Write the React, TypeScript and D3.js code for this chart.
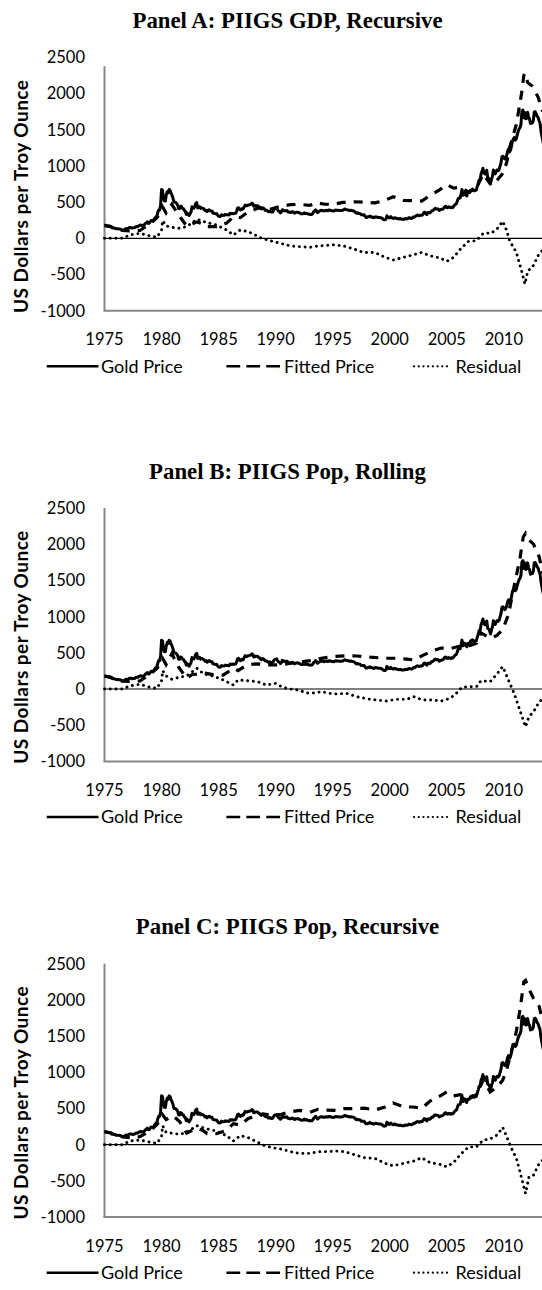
import React, { useEffect, useRef } from 'react'
import * as d3 from 'd3'

// monthly gold price, one row per year starting 1975
const goldStartYear = 1975
const goldPrice = [
  [176, 180, 178, 170, 167, 165, 166, 160, 144, 143, 142, 140],
  [131, 132, 132, 128, 127, 126, 118, 110, 114, 117, 131, 134],
  [132, 136, 148, 149, 147, 141, 144, 145, 149, 159, 162, 161],
  [173, 178, 184, 175, 177, 183, 189, 206, 213, 228, 206, 208],
  [227, 245, 242, 239, 257, 279, 295, 301, 355, 392, 392, 456],
  [675, 665, 555, 517, 514, 600, 644, 627, 674, 661, 623, 595],
  [557, 500, 500, 495, 480, 460, 410, 410, 443, 437, 413, 410],
  [384, 374, 330, 350, 333, 315, 339, 364, 435, 422, 415, 444],
  [481, 492, 420, 432, 438, 413, 422, 416, 412, 394, 382, 388],
  [370, 386, 394, 381, 378, 378, 348, 348, 341, 340, 341, 320],
  [303, 299, 304, 325, 316, 317, 317, 330, 324, 326, 325, 322],
  [345, 339, 346, 340, 342, 343, 348, 376, 418, 423, 398, 391],
  [408, 401, 409, 438, 460, 450, 450, 461, 460, 465, 468, 486],
  [477, 442, 444, 452, 451, 451, 437, 432, 413, 406, 420, 419],
  [404, 388, 390, 384, 371, 367, 375, 365, 362, 367, 394, 409],
  [410, 417, 393, 374, 369, 352, 362, 395, 389, 380, 382, 378],
  [384, 364, 363, 358, 357, 366, 368, 356, 348, 358, 360, 361],
  [354, 354, 344, 338, 337, 341, 353, 340, 345, 344, 335, 334],
  [329, 330, 330, 342, 367, 372, 392, 379, 355, 364, 374, 383],
  [387, 382, 384, 377, 381, 386, 385, 380, 391, 389, 384, 379],
  [379, 376, 382, 391, 385, 387, 386, 383, 383, 383, 386, 387],
  [400, 405, 396, 393, 392, 385, 383, 387, 383, 381, 378, 369],
  [355, 346, 352, 344, 344, 341, 324, 324, 323, 325, 306, 289],
  [289, 297, 296, 308, 299, 292, 293, 284, 289, 296, 294, 291],
  [287, 287, 286, 282, 277, 261, 256, 257, 264, 311, 293, 283],
  [284, 300, 286, 280, 275, 285, 282, 274, 273, 270, 266, 272],
  [265, 262, 263, 261, 272, 270, 268, 273, 283, 283, 276, 275],
  [282, 296, 294, 302, 314, 321, 313, 310, 319, 317, 319, 333],
  [357, 359, 340, 328, 355, 356, 351, 360, 379, 379, 389, 407],
  [414, 405, 406, 404, 384, 392, 398, 400, 405, 420, 439, 442],
  [424, 423, 434, 429, 422, 430, 424, 437, 456, 470, 476, 510],
  [549, 555, 557, 610, 675, 596, 633, 632, 598, 585, 627, 629],
  [631, 664, 655, 679, 667, 655, 665, 665, 712, 754, 806, 803],
  [889, 922, 968, 909, 888, 889, 939, 839, 829, 806, 760, 816],
  [858, 943, 924, 890, 928, 945, 934, 949, 996, 1043, 1127, 1134],
  [1118, 1095, 1113, 1148, 1205, 1232, 1193, 1215, 1271, 1343, 1370, 1391],
  [1356, 1372, 1424, 1473, 1510, 1529, 1572, 1756, 1772, 1666, 1739, 1652],
  [1656, 1742, 1673, 1650, 1585, 1596, 1594, 1626, 1744, 1747, 1721, 1688],
  [1671, 1627, 1593, 1487, 1414, 1343, 1286, 1347, 1349, 1316, 1275, 1225],
]

type Pt = [number, number]

const fittedA: Pt[] = [
  [1975.0, 176], [1975.5, 165], [1976.0, 130], [1976.6, 108], [1977.2, 102], [1978.1, 108],
  [1979.0, 200], [1979.6, 286], [1979.9, 350], [1980.1, 430], [1980.4, 350], [1980.9, 468],
  [1981.5, 322], [1982.2, 170], [1982.7, 200], [1983.1, 227], [1983.6, 200], [1984.0, 160],
  [1984.8, 160], [1985.7, 210], [1986.3, 296], [1986.9, 285], [1987.6, 368], [1988.2, 400],
  [1988.6, 422], [1989.5, 402], [1990.4, 440], [1991.3, 464], [1992.1, 469], [1993.0, 455],
  [1993.6, 490], [1994.3, 470], [1995.0, 470], [1995.9, 495], [1996.9, 505], [1997.7, 500],
  [1998.7, 490], [1999.6, 525], [2000.3, 575], [2001.2, 525], [2002.1, 520], [2002.8, 515],
  [2003.5, 590], [2004.4, 672], [2005.0, 742], [2005.6, 693], [2006.2, 705], [2006.9, 640],
  [2007.6, 697], [2008.2, 890], [2008.9, 730], [2009.4, 800], [2009.9, 895], [2010.25, 1045],
  [2010.5, 1250], [2011.1, 1575], [2011.55, 2000], [2011.75, 2250], [2011.85, 2280],
  [2012.1, 2150], [2012.5, 2100], [2013.0, 1950], [2013.4, 1750],
]

const residualA: Pt[] = [
  [1975.0, 0], [1975.5, 0], [1976.0, 0], [1976.6, 0], [1977.2, 46], [1978.1, 69], [1979.0, 32],
  [1979.6, 14], [1980.0, 115], [1980.1, 244], [1980.4, 170], [1980.9, 152], [1981.5, 138],
  [1982.2, 161], [1983.1, 263], [1984.0, 216], [1984.8, 184], [1985.7, 115], [1986.3, 46],
  [1986.9, 115], [1987.6, 92], [1988.2, 46], [1988.6, 10], [1989.5, -32], [1990.4, -69],
  [1991.3, -106], [1992.1, -115], [1993.0, -125], [1993.5, -110], [1993.9, -104], [1995.05, -90],
  [1995.9, -104], [1996.9, -150], [1997.7, -196], [1998.7, -196], [1999.6, -263], [2000.3, -300],
  [2001.2, -263], [2002.1, -226], [2002.8, -196], [2003.5, -240], [2004.4, -272], [2005.0, -318],
  [2005.6, -263], [2006.2, -148], [2006.9, -42], [2007.6, -32], [2008.2, 69], [2008.9, 69],
  [2009.4, 129], [2009.9, 235], [2010.25, 106], [2010.5, -32], [2011.1, -196], [2011.55, -448],
  [2011.85, -632], [2012.1, -448], [2012.5, -402], [2013.0, -240], [2013.4, -160],
]

const fittedB: Pt[] = [
  [1975.0, 176], [1975.5, 165], [1976.0, 130], [1976.6, 108], [1977.2, 106], [1978.1, 110],
  [1979.0, 207], [1979.6, 286], [1979.9, 350], [1980.1, 421], [1980.4, 337], [1980.9, 486],
  [1981.5, 300], [1982.2, 150], [1982.7, 200], [1983.1, 204], [1983.7, 222], [1984.5, 198],
  [1985.4, 191], [1986.3, 287], [1986.7, 255], [1987.5, 335], [1988.4, 348], [1989.2, 333],
  [1990.0, 332], [1990.6, 337], [1991.3, 358], [1992.1, 372], [1992.7, 385], [1993.5, 400],
  [1994.0, 424], [1995.05, 448], [1996.2, 460], [1997.1, 456], [1998.3, 439], [1999.7, 425],
  [2000.6, 425], [2001.5, 413], [2002.1, 402], [2002.9, 465], [2003.8, 531], [2004.5, 566],
  [2005.3, 558], [2006.0, 586], [2006.3, 590], [2007.0, 600], [2007.6, 633], [2008.0, 774],
  [2008.8, 704], [2009.4, 740], [2009.9, 821], [2010.4, 1025], [2010.9, 1420], [2011.4, 1790],
  [2011.7, 2100], [2011.9, 2150], [2012.2, 2060], [2012.6, 2000], [2013.1, 1825], [2013.4, 1600],
]

const residualB: Pt[] = [
  [1975.0, 0], [1975.5, 0], [1976.0, 0], [1976.6, 0], [1977.2, 42], [1978.1, 65], [1979.0, 23],
  [1979.6, 9], [1980.0, 115], [1980.1, 254], [1980.4, 180], [1980.9, 134], [1981.5, 161],
  [1982.2, 180], [1983.1, 286], [1983.7, 208], [1984.5, 180], [1985.4, 125], [1986.3, 55],
  [1986.7, 125], [1987.5, 115], [1988.4, 102], [1989.2, 55], [1990.0, 78], [1990.6, 23],
  [1991.3, 0], [1992.1, -18], [1992.7, -55], [1993.5, -55], [1994.0, -37], [1995.05, -69],
  [1996.2, -60], [1997.1, -106], [1998.3, -143], [1999.7, -166], [2000.6, -143], [2001.5, -143],
  [2002.1, -106], [2002.9, -152], [2003.8, -152], [2004.5, -166], [2005.3, -129], [2006.0, -37],
  [2006.3, 23], [2007.0, 32], [2007.6, 32], [2008.0, 115], [2008.8, 102], [2009.4, 208],
  [2009.9, 309], [2010.4, 125], [2010.9, -60], [2011.4, -291], [2011.9, -522], [2012.2, -383],
  [2012.6, -314], [2013.1, -175], [2013.4, -140],
]

const fittedC: Pt[] = [
  [1975.0, 176], [1975.5, 165], [1976.0, 130], [1976.6, 108], [1977.2, 97], [1978.1, 110],
  [1979.1, 203], [1979.6, 280], [1979.9, 350], [1980.1, 412], [1980.4, 346], [1981.0, 400],
  [1981.6, 317], [1982.2, 160], [1982.7, 200], [1983.1, 227], [1983.6, 200], [1984.0, 153],
  [1984.8, 151], [1985.7, 200], [1986.3, 291], [1986.9, 270], [1987.6, 363], [1988.2, 393],
  [1988.9, 425], [1989.7, 407], [1990.5, 420], [1991.3, 455], [1992.1, 474], [1993.0, 449],
  [1993.7, 489], [1994.2, 480], [1995.3, 473], [1996.1, 500], [1997.0, 498], [1997.8, 504],
  [1998.7, 480], [1999.6, 520], [2000.3, 576], [2001.2, 521], [2002.1, 521], [2002.8, 500],
  [2003.5, 600], [2004.4, 672], [2005.0, 729], [2005.6, 675], [2006.2, 690], [2006.9, 630],
  [2007.6, 693], [2008.2, 895], [2008.8, 728], [2009.4, 796], [2009.9, 890], [2010.25, 1040],
  [2010.6, 1250], [2011.1, 1570], [2011.45, 1900], [2011.75, 2250], [2011.9, 2270],
  [2012.2, 2150], [2012.6, 2020], [2013.1, 1910], [2013.4, 1700],
]

const residualC: Pt[] = [
  [1975.0, 0], [1975.5, 0], [1976.0, 0], [1976.6, 0], [1977.2, 51], [1978.1, 65], [1979.1, 32],
  [1979.6, 18], [1980.0, 115], [1980.1, 263], [1980.4, 171], [1981.0, 157], [1981.6, 143],
  [1982.2, 171], [1983.1, 263], [1984.0, 217], [1984.8, 189], [1985.7, 125], [1986.3, 51],
  [1986.9, 125], [1987.6, 97], [1988.2, 51], [1988.9, -5], [1989.7, -42], [1990.5, -60],
  [1991.3, -97], [1992.1, -120], [1993.0, -120], [1993.7, -97], [1994.2, -97], [1995.3, -88],
  [1996.1, -97], [1997.0, -143], [1997.8, -180], [1998.7, -189], [1999.6, -258], [2000.3, -291],
  [2001.2, -258], [2002.1, -226], [2002.8, -180], [2003.5, -245], [2004.4, -272], [2005.0, -305],
  [2005.6, -245], [2006.2, -134], [2006.9, -32], [2007.6, -28], [2008.2, 65], [2008.8, 78],
  [2009.4, 134], [2009.9, 240], [2010.25, 111], [2010.6, -28], [2011.1, -189], [2011.45, -397],
  [2011.9, -674], [2012.2, -443], [2012.6, -420], [2013.1, -258], [2013.4, -215],
]

const panelTitles = ['Panel A: PIIGS GDP, Recursive', 'Panel B: PIIGS Pop, Rolling', 'Panel C: PIIGS Pop, Recursive']
const panelFitted = [fittedA, fittedB, fittedC]
const panelResidual = [residualA, residualB, residualC]
const yTicks = [2500, 2000, 1500, 1000, 500, 0, -500, -1000]
const xTicks = [1975, 1980, 1985, 1990, 1995, 2000, 2005, 2010]
const legendLabels = ['Gold Price', 'Fitted Price', 'Residual']
const yAxisTitle = 'US Dollars per Troy Ounce'

// layout
const W = 542
const H = 1290
const zeroYs = [238.3, 689, 1144.7]
const axisTopGap = [9, 0, 0]
const PX500 = 36.2
const X0 = 104.5
const PX_YEAR = 11.41
const SANS = 'Lato, "Open Sans", sans-serif'

export default function App() {
  const svgRef = useRef<SVGSVGElement>(null)

  useEffect(() => {
    const svg = d3.select(svgRef.current)
    svg.selectAll('*').remove()

    const x = d3.scaleLinear().domain([1975, 2015]).range([X0, X0 + 40 * PX_YEAR])
    const gold: Pt[] = goldPrice.flatMap((row, i) =>
      row.map((v, m) => [goldStartYear + i + m / 12, v] as Pt))

    panelTitles.forEach((title, i) => {
      const z = zeroYs[i]
      const y = d3.scaleLinear().domain([-1000, 2500]).range([z + 2 * PX500, z - 5 * PX500])
      const g = svg.append('g')

      g.append('text')
        .attr('x', 287.5).attr('y', z - 210.5)
        .attr('text-anchor', 'middle')
        .style('font-family', '"Liberation Serif", "Times New Roman", serif')
        .style('font-weight', 'bold')
        .style('font-size', '22.8px')
        .text(title)

      // y tick labels
      g.selectAll('.yt').data(yTicks).join('text')
        .attr('x', 85).attr('y', d => y(d))
        .attr('dy', '0.36em')
        .attr('text-anchor', 'end')
        .style('font-family', SANS).style('font-size', '16.5px')
        .text(d => d)

      g.append('text')
        .attr('transform', `translate(21,${z - 41.75}) rotate(-90)`)
        .attr('text-anchor', 'middle')
        .attr('dy', '0.35em')
        .attr('textLength', 233)
        .style('font-family', SANS).style('font-weight', 'bold').style('font-size', '19px')
        .text(yAxisTitle)

      // axes
      g.append('line')
        .attr('x1', X0).attr('x2', X0)
        .attr('y1', y(2500) + axisTopGap[i]).attr('y2', y(-1000))
        .attr('stroke', '#868686').attr('stroke-width', 2)
      g.append('line')
        .attr('x1', X0 - 1).attr('x2', W)
        .attr('y1', y(-1000)).attr('y2', y(-1000))
        .attr('stroke', '#868686').attr('stroke-width', 2)
      g.append('line')
        .attr('x1', X0).attr('x2', W)
        .attr('y1', y(0)).attr('y2', y(0))
        .attr('stroke', '#000').attr('stroke-width', 1.2)

      const line = d3.line<Pt>().x(d => x(d[0])).y(d => y(d[1]))

      g.append('path')
        .attr('d', line(gold))
        .attr('fill', 'none').attr('stroke', '#000')
        .attr('stroke-width', 3).attr('stroke-linejoin', 'round')
      g.append('path')
        .attr('d', line(panelFitted[i]))
        .attr('fill', 'none').attr('stroke', '#000')
        .attr('stroke-width', 3.2).attr('stroke-dasharray', '9,8')
      g.append('path')
        .attr('d', line(panelResidual[i]))
        .attr('fill', 'none').attr('stroke', '#000')
        .attr('stroke-width', 2.9).attr('stroke-linecap', 'round')
        .attr('stroke-dasharray', '0.1,5.6')

      // x tick labels
      g.selectAll('.xt').data(xTicks).join('text')
        .attr('x', d => x(d)).attr('y', z + 107)
        .attr('text-anchor', 'middle')
        .style('font-family', SANS).style('font-size', '16.5px')
        .text(d => d)

      // legend
      const ly = z + 128
      const items = [
        { x1: 46.7, x2: 98.5, tx: 101, dash: null, w: 2.6, cap: 'butt' },
        { x1: 226.4, x2: 280, tx: 284, dash: '13.8,6.1', w: 2.6, cap: 'butt' },
        { x1: 414, x2: 451, tx: 455.6, dash: '0.1,4.6', w: 2.2, cap: 'round' },
      ]
      items.forEach((it, k) => {
        g.append('line')
          .attr('x1', it.x1).attr('x2', it.x2).attr('y1', ly).attr('y2', ly)
          .attr('stroke', '#000').attr('stroke-width', it.w)
          .attr('stroke-linecap', it.cap)
          .attr('stroke-dasharray', it.dash)
        g.append('text')
          .attr('x', it.tx).attr('y', ly).attr('dy', '0.36em')
          .style('font-family', SANS).style('font-size', '18px')
          .text(legendLabels[k])
      })
    })
  }, [])

  return (
    <svg
      ref={svgRef}
      width={W}
      height={H}
      style={{ position: 'absolute', left: 0, top: 0, background: '#fff' }}
    />
  )
}
